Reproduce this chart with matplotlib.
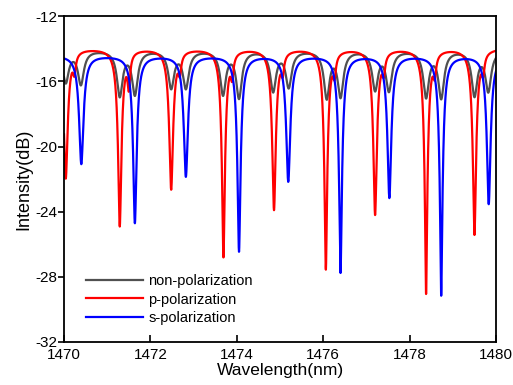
import numpy as np
import matplotlib
matplotlib.use('Agg')
import matplotlib.pyplot as plt

plt.rcParams['font.family'] = ['Liberation Sans', 'DejaVu Sans']
plt.rcParams['axes.unicode_minus'] = False

# dip centres (nm) and dip minima (dB)
p_centers = [1470.04, 1471.29, 1472.48, 1473.69, 1474.86, 1476.06, 1477.20, 1478.38, 1479.50]
p_depths = [-21.9, -24.8, -22.55, -26.7, -23.8, -27.45, -24.1, -28.95, -25.35]
p_base = -13.95
# small side notches on the red trace, just right of the main dips
p_notch_centers = [1470.24, 1471.50, 1472.68, 1473.89, 1475.06, 1476.26, 1477.40, 1478.58, 1479.70]
p_notch_depths = [-15.0, -15.9, -15.0, -15.2, -15.0, -15.1, -15.0, -15.1, -15.0]

s_centers = [1470.40, 1471.64, 1472.82, 1474.05, 1475.19, 1476.40, 1477.53, 1478.73, 1479.83]
s_depths = [-21.05, -24.66, -21.8, -26.4, -22.1, -27.7, -23.1, -29.1, -23.5]
s_base = -14.4

n_centers = [1470.04, 1470.39, 1471.29, 1471.64, 1472.48, 1472.82, 1473.68, 1474.05, 1474.84,
             1475.20, 1476.08, 1476.40, 1477.20, 1477.52, 1478.38, 1478.73, 1479.50, 1479.82]
n_depths = [-16.0, -16.1, -16.8, -16.7, -16.3, -16.3, -16.7, -16.9, -16.5,
            -16.25, -16.9, -16.8, -16.4, -16.45, -16.85, -16.9, -16.77, -16.5]
n_base = -14.05

wl = np.linspace(1470, 1480, 5001)


def notches(base, centers, depths, width):
    # lorentzian notches multiplied in linear power
    t = np.ones_like(wl)
    for c, d in zip(centers, depths):
        a = 1 - 10 ** ((d - base) / 10)
        t *= 1 - a / (1 + ((wl - c) / width) ** 2)
    return t


n_db = n_base + 10 * np.log10(notches(n_base, n_centers, n_depths, 0.092))
p_db = p_base + 10 * np.log10(notches(p_base, p_centers, p_depths, 0.09)
                              * notches(p_base, p_notch_centers, p_notch_depths, 0.04))
s_db = s_base + 10 * np.log10(notches(s_base, s_centers, s_depths, 0.09))

fig = plt.figure(figsize=(5.13, 3.85), dpi=100)
ax = fig.add_axes([0.1248, 0.1117, 0.8422, 0.846])

ax.plot(wl, n_db, color='#505050', lw=1.6, label='non-polarization')
ax.plot(wl, p_db, color='#ff0000', lw=1.6, label='p-polarization')
ax.plot(wl, s_db, color='#0000ff', lw=1.6, label='s-polarization')

ax.set_xlim(1470, 1480)
ax.set_ylim(-32, -12)
ax.set_xticks(np.arange(1470, 1481, 2))
ax.set_yticks(np.arange(-32, -11, 4))
ax.tick_params(axis='x', direction='in', length=5, width=1.2, labelsize=11, pad=4)
ax.tick_params(axis='y', direction='out', length=4, width=1.2, labelsize=11, pad=1)
for sp in ax.spines.values():
    sp.set_linewidth(1.3)

ax.set_xlabel('Wavelength(nm)', fontsize=12.5, labelpad=1)
ax.set_ylabel('Intensity(dB)', fontsize=13, labelpad=2)

ax.legend(loc='lower left', bbox_to_anchor=(0.02, 0.012), frameon=False, fontsize=10.5,
          handlelength=3.9, handletextpad=0.4, labelspacing=0.3)

fig.savefig('out.png', dpi=100)
